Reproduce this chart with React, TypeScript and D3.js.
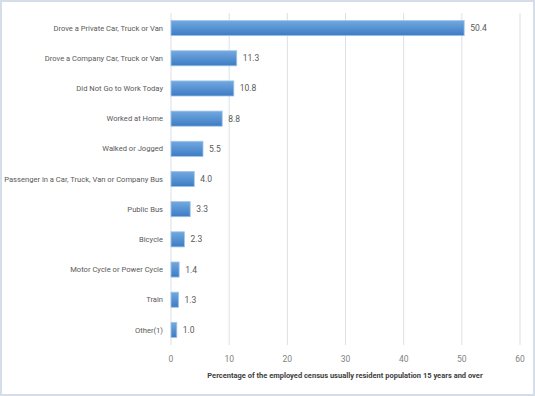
import React from 'react';
import * as d3 from 'd3';

const categories = [
  'Drove a Private Car, Truck or Van',
  'Drove a Company Car, Truck or Van',
  'Did Not Go to Work Today',
  'Worked at Home',
  'Walked or Jogged',
  'Passenger in a Car, Truck, Van or Company Bus',
  'Public Bus',
  'Bicycle',
  'Motor Cycle or Power Cycle',
  'Train',
  'Other(1)',
];
const values = [50.4, 11.3, 10.8, 8.8, 5.5, 4.0, 3.3, 2.3, 1.4, 1.3, 1.0];
const xTicks = [0, 10, 20, 30, 40, 50, 60];
const axisTitle = 'Percentage of the employed census usually resident population 15 years and over';

const W = 535;
const H = 396;
const margin = { top: 13, right: 15, bottom: 51, left: 171 };
const font = 'Roboto, "Liberation Sans", sans-serif';

export default function App() {
  const x = d3.scaleLinear().domain([0, 60]).range([margin.left, W - margin.right]);
  const y = d3.scaleBand<string>()
    .domain(categories)
    .range([margin.top, H - margin.bottom])
    .paddingInner(0.5)
    .paddingOuter(0.25);

  return (
    <svg width={W} height={H} style={{ position: 'absolute', left: 0, top: 0 }}>
      <defs>
        <linearGradient id="barGrad" x1="0" y1="0" x2="0" y2="1">
          <stop offset="0%" stopColor="#72a9e0" />
          <stop offset="100%" stopColor="#3c7bc4" />
        </linearGradient>
      </defs>
      <rect x={0} y={0} width={W} height={H} fill="#fff" />
      <rect x={1} y={1} width={W - 2} height={H - 2} fill="none" stroke="#d5dde8" strokeWidth={2} />

      {xTicks.map(t => (
        <g key={t}>
          <line x1={x(t)} x2={x(t)} y1={margin.top} y2={H - margin.bottom}
            stroke="#dbe0e6" strokeWidth={1} />
          <text x={x(t)} y={362} textAnchor="middle" fontFamily={font} fontSize={8.5} fill="#7f7f7f">
            {t}
          </text>
        </g>
      ))}

      {categories.map((c, i) => {
        const by = y(c)!;
        const bh = y.bandwidth();
        return (
          <g key={c}>
            <rect x={x(0)} y={by} width={x(values[i]) - x(0)} height={bh}
              fill="url(#barGrad)" stroke="#9fc4ea" strokeWidth={0.8} />
            <text x={x(0) - 8} y={by + bh / 2} dy="0.35em" textAnchor="end"
              fontFamily={font} fontSize={7.6} fill="#595959">
              {c}
            </text>
            <text x={x(values[i]) + 6} y={by + bh / 2} dy="0.35em"
              fontFamily={font} fontSize={8.5} fill="#595959">
              {values[i].toFixed(1)}
            </text>
          </g>
        );
      })}

      <text x={345} y={378} textAnchor="middle" fontFamily={font} fontSize={7.5}
        fontWeight="bold" fill="#404040">
        {axisTitle}
      </text>
    </svg>
  );
}
